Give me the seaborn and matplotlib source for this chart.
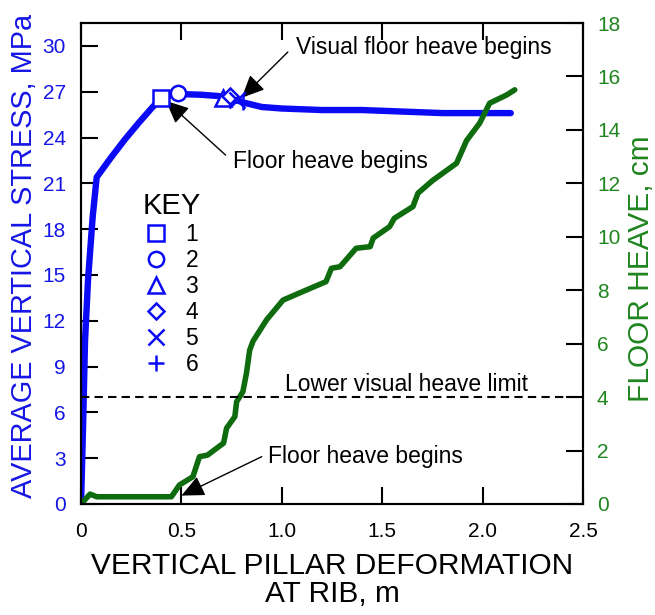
import matplotlib
matplotlib.use("Agg")
import matplotlib.pyplot as plt
import seaborn as sns
from matplotlib.lines import Line2D

# ---------------- data ----------------
stress_x = [0.0, 0.01, 0.02, 0.035, 0.058, 0.078, 0.15, 0.22, 0.29, 0.35, 0.40, 0.45,
            0.49, 0.60, 0.70, 0.74, 0.775, 0.806, 0.9, 1.0, 1.2, 1.4, 1.6, 1.8, 2.0, 2.14]
stress_y = [0.0, 5.0, 10.7, 14.7, 18.8, 21.4, 22.7, 23.9, 25.0, 25.9, 26.6, 26.8,
            26.85, 26.8, 26.7, 26.6, 26.45, 26.3, 26.0, 25.9, 25.8, 25.8, 25.7, 25.6, 25.6, 25.6]

heave_x = [0.0, 0.045, 0.078, 0.45, 0.49, 0.557, 0.59, 0.63, 0.71, 0.725, 0.766, 0.775,
           0.806, 0.824, 0.84, 0.857, 0.924, 1.006, 1.12, 1.22, 1.247, 1.29, 1.37, 1.44,
           1.455, 1.537, 1.56, 1.653, 1.678, 1.75, 1.87, 1.92, 1.985, 2.035, 2.118, 2.16]
heave_y = [0.0, 0.37, 0.27, 0.27, 0.71, 1.02, 1.77, 1.83, 2.28, 2.84, 3.27, 3.83,
           4.2, 4.9, 5.76, 6.1, 6.89, 7.63, 8.0, 8.32, 8.82, 8.88, 9.57, 9.63,
           9.95, 10.38, 10.69, 11.13, 11.63, 12.1, 12.75, 13.6, 14.25, 15.0, 15.3, 15.5]

key_labels = ["1", "2", "3", "4", "5", "6"]
key_markers = ["s", "o", "^", "D", "x", "+"]
key_x = [0.40, 0.483, 0.708, 0.74, 0.775, 0.806]
key_y = [26.6, 26.9, 26.6, 26.7, 26.45, 26.3]

visual_heave_limit_cm = 4.0

x_ticks = [0, 0.5, 1.0, 1.5, 2.0, 2.5]
x_ticklabels = ["0", "0.5", "1.0", "1.5", "2.0", "2.5"]
left_ticks = [0, 3, 6, 9, 12, 15, 18, 21, 24, 27, 30]
right_ticks = [0, 2, 4, 6, 8, 10, 12, 14, 16, 18]

# ---------------- style ----------------
sns.set_style("ticks")
plt.rcParams["font.family"] = ["Liberation Sans", "DejaVu Sans"]
plt.rcParams["text.color"] = "black"
plt.rcParams["axes.labelcolor"] = "black"
plt.rcParams["xtick.color"] = "black"
plt.rcParams["ytick.color"] = "black"

BLUE = "#0a0af5"
BLUE_TXT = "#1515e6"
GREEN_LINE = "#0e6b0e"
GREEN_TXT = "#1f851f"


def marker_style(m):
    filled = m not in ("x", "+")
    return dict(marker=m, linestyle="none",
                markersize=11 if m != "D" else 8.5,
                markerfacecolor="white" if filled else BLUE,
                markeredgecolor=BLUE, markeredgewidth=1.8)


fig = plt.figure(figsize=(6.55, 6.15), dpi=100)
ax = fig.add_axes([0.1237, 0.1805, 0.7664, 0.7821])
ax2 = ax.twinx()

sns.lineplot(x=stress_x, y=stress_y, ax=ax, color=BLUE, linewidth=4.6,
             sort=False, estimator=None)
sns.lineplot(x=heave_x, y=heave_y, ax=ax2, color=GREEN_LINE, linewidth=4,
             sort=False, estimator=None)

for m, xx, yy in zip(key_markers, key_x, key_y):
    ax.plot([xx], [yy], zorder=5, **marker_style(m))

ax2.axhline(visual_heave_limit_cm, color="black", linestyle=(0, (4, 2.5)), linewidth=1.5)

ax.set_xlim(0, 2.5)
ax.set_ylim(0, 31.5)
ax2.set_ylim(0, 18)
ax.set_xticks(x_ticks)
ax.set_xticklabels(x_ticklabels)
ax.set_yticks(left_ticks)
ax2.set_yticks(right_ticks)

for a in (ax, ax2):
    for s in a.spines.values():
        s.set_linewidth(1.5)
        s.set_color("black")

ax.tick_params(axis="x", direction="in", length=12, width=1.5, top=True, labelsize=15, pad=13)
ax.tick_params(axis="y", direction="in", length=12, width=1.5, labelsize=15,
               labelcolor=BLUE_TXT, pad=11)
ax2.tick_params(axis="y", direction="in", length=12, width=1.5, labelsize=15,
                labelcolor=GREEN_TXT, pad=10)

ax.set_xlabel("VERTICAL PILLAR DEFORMATION\nAT RIB, m", fontsize=21.5, linespacing=1.0, labelpad=8)
ax.set_ylabel("AVERAGE VERTICAL STRESS, MPa", fontsize=20.8, color=BLUE_TXT)
ax.yaxis.set_label_coords(-0.0857, 0.515)
ax2.set_ylabel("FLOOR HEAVE, cm", fontsize=21.5, color=GREEN_TXT)
ax2.yaxis.set_label_coords(1.087, 0.49)

# annotations
arrow = dict(arrowstyle="-|>,head_length=0.7,head_width=0.32", mutation_scale=20,
             color="black", lw=1, shrinkA=0, shrinkB=0)
fs_ann = 16.5
ax.text(1.07, 29.9, "Visual floor heave begins", fontsize=fs_ann, ha="left", va="center")
ax.annotate("", xy=(0.80, 26.6), xytext=(1.03, 29.6), arrowprops=arrow)
ax.text(0.756, 22.4, "Floor heave begins", fontsize=fs_ann, ha="left", va="center")
ax.annotate("", xy=(0.423, 26.4), xytext=(0.72, 22.85), arrowprops=arrow)
ax.text(0.93, 3.08, "Floor heave begins", fontsize=fs_ann, ha="left", va="center")
ax.annotate("", xy=(0.50, 0.55), xytext=(0.90, 3.1), arrowprops=arrow)
ax.text(1.015, 7.8, "Lower visual heave limit", fontsize=fs_ann, ha="left", va="center")

# key (legend)
handles = [Line2D([], [], **marker_style(m)) for m in key_markers]
leg = ax2.legend(handles, key_labels, title="KEY", loc="upper left",
                 bbox_to_anchor=(0.100, 0.6725), frameon=False, fontsize=16.5,
                 title_fontsize=21, handlelength=1.13, handletextpad=0.74,
                 labelspacing=0.13, borderpad=0, alignment="left")

fig.savefig("out.png", dpi=100)
